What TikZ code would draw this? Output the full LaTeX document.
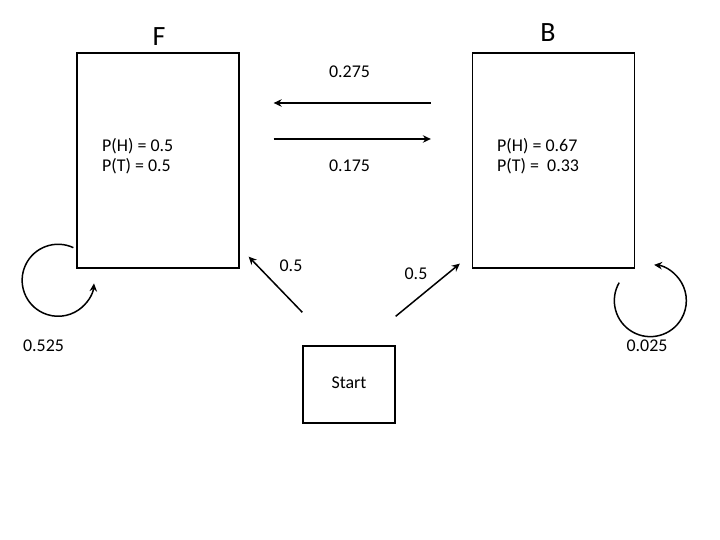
\documentclass[tikz,border=0pt]{standalone}
\usepackage{fontspec}
\setmainfont{Carlito}
\usetikzlibrary{arrows.meta, positioning, calc}

\begin{document}
\begin{tikzpicture}[
    x=1bp, y=1bp,
    stbox/.style={draw, rectangle, line width=1.3bp,
                  minimum width=162bp, minimum height=215bp, inner sep=0pt},
    stlbl/.style={anchor=base, font=\fontsize{28}{30}\selectfont},
    prob/.style={anchor=base west, inner sep=0pt,
                 font=\fontsize{18}{20}\selectfont},
    arw/.style={-{Stealth[length=8bp,width=7.5bp]}, line width=1.5bp},
    lbl/.style={anchor=base, inner sep=0pt, font=\fontsize{18}{20}\selectfont}
  ]
    \useasboundingbox (0,0) rectangle (720,540);

    \node[stbox] (fbox) at (158,379.5) {};
    \node[stbox] (bbox) at (553.5,379.5) {};
    \node[draw, line width=1.3bp, minimum width=92bp, minimum height=77bp,
          inner sep=0pt, text depth=3bp, font=\fontsize{18}{20}\selectfont] (start) at (349,155.5) {Start};

    \node[stlbl] (flbl) at (159,494) {F};
    \node[stlbl] (blbl) at (548,498) {B};

    \node[prob] (fph) at (102,388) {P(H) = 0.5};
    \node[prob] (fpt) at (102,368) {P(T) = 0.5};
    \node[prob] (bph) at (497,388) {P(H) = 0.67};
    \node[prob] (bpt) at (497,368) {P(T) =\ \ 0.33};

    % arrows between the two states
    \coordinate (bf1) at ($(bbox.west)+(-41,57.5)$);
    \coordinate (bf2) at ($(fbox.east)+(34,57.5)$);
    \coordinate (fb1) at ($(fbox.east)+(34,21.5)$);
    \coordinate (fb2) at ($(bbox.west)+(-41,21.5)$);
    \draw[arw] (bf1) -- (bf2);
    \draw[arw] (fb1) -- (fb2);
    \node[lbl] (bflbl) at (349.5,462) {0.275};
    \node[lbl] (fblbl) at (349.5,368) {0.175};

    % arrows from start
    \coordinate (sf) at ($(start.north west)+(0,33)$);
    \coordinate (sb) at ($(start.north east)+(0,29)$);
    \draw[arw] (sf) -- ($(fbox.south east)+(9,12)$);
    \draw[arw] (sb) -- ($(bbox.south west)+(-12,5)$);
    \node[lbl] (sflbl) at (291,268) {0.5};
    \node[lbl] (sblbl) at (416,260) {0.5};

    % self loops
    \coordinate (floop) at ($(fbox.south west)+(-3,21)$);
    \coordinate (bloop) at ($(bbox.south east)+(-16,-14)$);
    \draw[arw] (floop) arc[start angle=65, end angle=355, radius=36];
    \draw[arw] (bloop) arc[start angle=150, end angle=444, radius=36];
    \node[lbl] (floopl) at (43.5,188) {0.525};
    \node[lbl] (bloopl) at (647,188) {0.025};
  \end{tikzpicture}
\end{document}
